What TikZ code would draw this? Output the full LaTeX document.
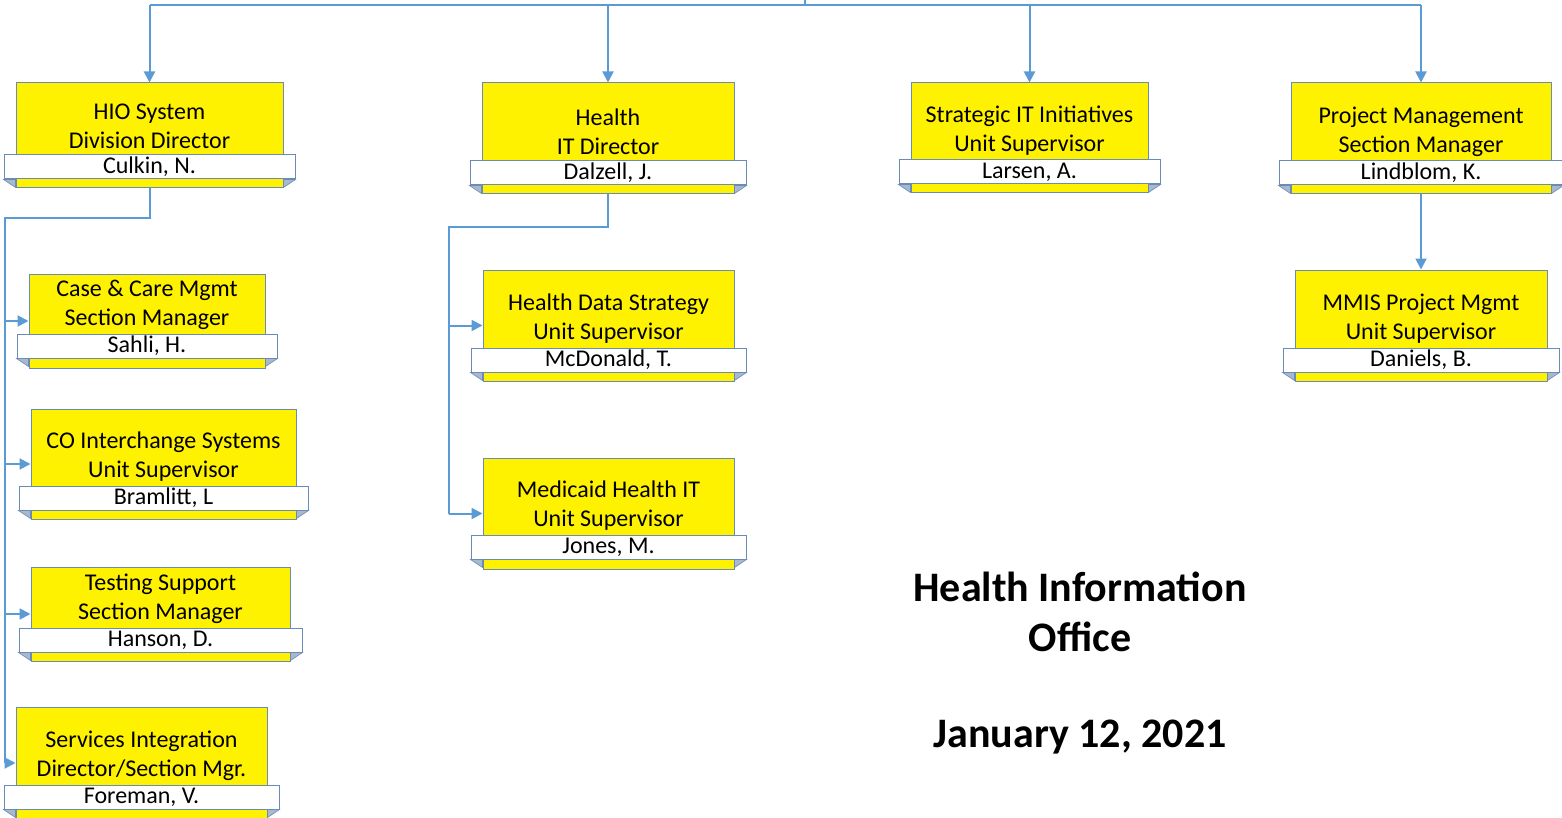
\documentclass[tikz,border=0pt]{standalone}
\usepackage{fontspec}
\setmainfont{Carlito}
\usepackage{tikz}
\usetikzlibrary{arrows.meta}
\definecolor{linkblue}{HTML}{5B9BD5}
\definecolor{edgeblue}{HTML}{6A8BB5}
\definecolor{foldgray}{HTML}{A9B8CC}
\tikzstyle{conn} = [linkblue, line width=2pt]
\tikzstyle{arrow} = [conn, -{Triangle[length=11pt, width=11pt]}]
\tikzstyle{unitbox} = [draw=edgeblue, line width=1pt, fill=yellow, inner sep=0pt]
\tikzstyle{namebar} = [draw=edgeblue, line width=1pt, fill=white, inner sep=0pt, minimum height=24pt,
  font=\fontsize{24}{29}\selectfont]
\tikzstyle{unittitle} = [align=center, font=\fontsize{24}{29}\selectfont]
\tikzstyle{fold} = [fill=foldgray, draw=edgeblue, line width=0.6pt]
\tikzstyle{heading} = [font=\fontsize{42}{50}\selectfont\bfseries]

% #1 name, #2 centre x, #3 top y, #4 width, #5 height, #6 name bar y, #7 title, #8 person
\newcommand{\orgunit}[8]{
\node[unitbox, minimum width=#4pt, minimum height=#5pt] (#1) at ({#2},{#3+#5/2}) {};
\node[namebar, minimum width=#4pt+24pt] (#1n) at ({#2},{#6+1}) {#8};
\node[unittitle] (#1t) at ({#2},{#6-40}) {#7};
\draw[fold] (#1n.south west) -- (#1n.south west -| #1.west) -- ([yshift=-8pt]#1n.south west -| #1.west) -- cycle;
\draw[fold] (#1n.south east) -- (#1n.south east -| #1.east) -- ([yshift=-8pt]#1n.south east -| #1.east) -- cycle;
}

\begin{document}
\begin{tikzpicture}[x=1pt, y=-1pt]
\useasboundingbox (0,0) rectangle (1562,818);

% top row
\orgunit{hio}{149.5}{83}{267}{105}{166}{HIO System\\Division Director}{Culkin, N.}
\orgunit{hit}{608}{83}{252}{111}{172}{Health\\IT Director}{Dalzell, J.}
\orgunit{sit}{1029.5}{83}{237}{110}{171}{Strategic IT Initiatives\\Unit Supervisor}{Larsen, A.}
\orgunit{pm}{1421}{83}{260}{111}{172}{Project Management\\Section Manager}{Lindblom, K.}

% under HIO
\orgunit{ccm}{147}{274}{236}{94}{345}{Case \& Care Mgmt\\Section Manager}{Sahli, H.}
\orgunit{cois}{163.5}{409}{265}{110}{497}{CO Interchange Systems\\Unit Supervisor}{Bramlitt, L}
\orgunit{tsm}{160.5}{567}{259}{94}{639}{Testing Support\\Section Manager}{Hanson, D.}
\orgunit{sim}{141.5}{707}{251}{112}{796}{Services Integration\\Director/Section Mgr.}{Foreman, V.}

% under Health IT
\orgunit{hds}{608.5}{270}{251}{111}{359}{Health Data Strategy\\Unit Supervisor}{McDonald, T.}
\orgunit{mhit}{608.5}{458}{251}{111}{546}{Medicaid Health IT\\Unit Supervisor}{Jones, M.}

% under Project Management
\orgunit{mmis}{1421}{270}{252}{111}{359}{MMIS Project Mgmt\\Unit Supervisor}{Daniels, B.}

% connectors
\coordinate (top) at (805,0);
\coordinate (bus) at (805,5);
\coordinate (lbus) at (5,218);
\coordinate (mbus) at (449,227);

\draw[conn] (top) -- (bus);
\draw[conn] (hio.north |- bus) -- (pm.north |- bus);
\foreach \n in {hio,hit,sit,pm}
\draw[arrow] (\n.north |- bus) -- (\n.north);

\draw[conn] (hio.south) -- (hio.south |- lbus) -- (lbus) -- (lbus |- sim.west);
\foreach \n in {ccm,cois,tsm,sim}
\draw[arrow] (lbus |- \n.west) -- (\n.west);

\draw[conn] (hit.south) -- (hit.south |- mbus) -- (mbus) -- (mbus |- mhit.west);
\foreach \n in {hds,mhit}
\draw[arrow] (mbus |- \n.west) -- (\n.west);

\draw[arrow] (pm.south) -- (mmis.north);

% title
\node[heading] (office1) at (1080,587) {Health Information};
\node[heading] (office2) at (1080,637) {Office};
\node[heading] (date) at (1080,737) {January 12, 2021};
\end{tikzpicture}
\end{document}
